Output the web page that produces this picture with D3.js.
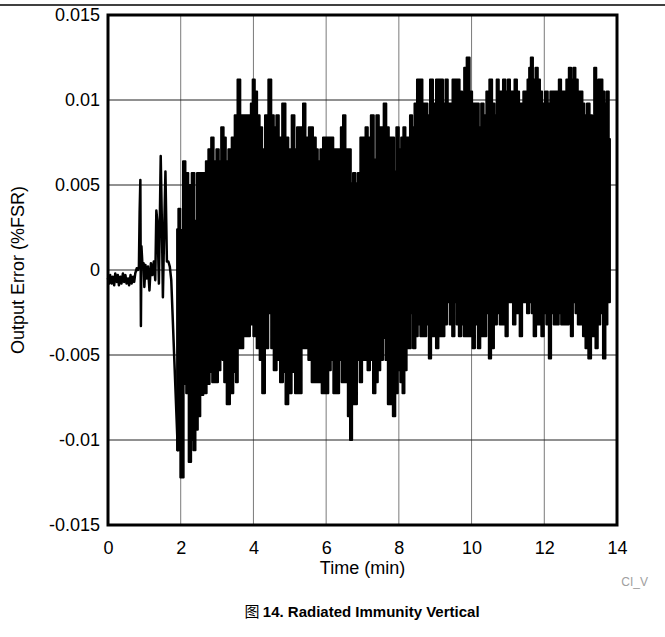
<!DOCTYPE html>
<html>
<head>
<meta charset="utf-8">
<script src="https://cdn.jsdelivr.net/npm/d3@7"></script>
<style>
html,body{margin:0;padding:0;background:#fff;}
svg{display:block;}
text{font-family:"Liberation Sans",Arial,sans-serif;}
</style>
</head>
<body>
<svg id="chart" width="665" height="637"></svg>
<script>
// ---- DATA (values in units of 0.001 %FSR) ----
const xTicks = [0, 2, 4, 6, 8, 10, 12, 14];
const xTickLabels = ["0", "2", "4", "6", "8", "10", "12", "14"];
const yTicks = [15, 10, 5, 0, -5, -10, -15];
const yTickLabels = ["0.015", "0.01", "0.005", "0", "-0.005", "-0.01", "-0.015"];

// quiet start, spikes and the step at ~1.9 min
const earlyTime = [0,0.03,0.06,0.1,0.13,0.17,0.2,0.24,0.27,0.3,0.34,0.37,0.41,0.44,0.48,0.51,0.55,0.58,0.62,0.65,0.69,0.72,0.75,0.79,0.82,0.85,0.87,0.89,0.905,0.92,0.95,0.98,1.0,1.03,1.07,1.1,1.14,1.18,1.22,1.26,1.3,1.33,1.36,1.4,1.45,1.48,1.51,1.54,1.58,1.62,1.66,1.7,1.74,1.92];
const earlyValue = [-0.5,-0.8,-0.3,-0.8,-0.4,-0.9,-0.2,-0.7,-0.3,-0.9,-0.4,-0.8,-0.2,-0.7,-0.3,-0.8,-0.5,-0.9,-0.3,-0.8,-0.4,-0.7,-0.2,0.1,0.0,0.2,3.4,5.3,-3.3,1.4,0.2,0.4,-1.0,0.3,-0.5,0.2,-1.2,0.4,-0.3,0.5,-0.6,3.5,2.8,-0.8,6.7,3.0,-1.6,1.8,5.8,0.5,0.5,0.2,-0.6,-10.6];

// upper envelope of the oscillating part
const hiTime = [1.90,1.916,1.953,2.026,2.099,2.163,2.255,2.347,2.411,2.484,2.576,2.668,2.714,2.805,2.869,2.943,3.016,3.080,3.144,3.218,3.264,3.355,3.447,3.520,3.603,3.676,3.768,3.905,3.951,4.006,4.070,4.134,4.208,4.272,4.364,4.455,4.529,4.593,4.666,4.730,4.850,4.914,5.006,5.097,5.161,5.235,5.326,5.400,5.464,5.583,5.693,5.739,5.803,5.876,5.950,6.060,6.151,6.243,6.381,6.427,6.500,6.564,6.656,6.702,6.775,6.839,6.903,6.977,7.050,7.114,7.178,7.279,7.343,7.417,7.481,7.545,7.618,7.692,7.756,7.847,7.893,7.967,8.031,8.095,8.150,8.214,8.278,8.333,8.397,8.462,8.535,8.627,8.672,8.764,8.810,8.902,8.975,9.067,9.131,9.177,9.250,9.314,9.378,9.452,9.498,9.589,9.635,9.708,9.773,9.818,9.910,9.983,10.048,10.094,10.167,10.231,10.295,10.369,10.442,10.534,10.598,10.662,10.717,10.781,10.827,10.900,10.964,11.029,11.084,11.148,11.212,11.285,11.331,11.395,11.450,11.515,11.560,11.606,11.652,11.725,11.790,11.854,11.909,11.973,12.064,12.129,12.202,12.294,12.367,12.431,12.495,12.569,12.642,12.706,12.770,12.825,12.890,12.954,13.027,13.073,13.137,13.210,13.284,13.348,13.394,13.467,13.504,13.577,13.623,13.687,13.742,13.806];
const hiValue = [2.4,2.35,3.6,2.35,6.4,5.7,5.0,5.7,2.9,5.7,5.7,5.7,6.4,7.1,7.8,6.4,7.1,6.4,8.4,7.8,6.4,7.1,7.8,9.1,11.2,9.1,9.1,9.1,9.8,11.2,10.5,9.1,8.4,7.1,9.1,11.2,9.1,8.4,9.1,7.8,9.8,7.8,7.1,9.1,7.1,8.4,8.4,9.8,7.8,8.4,7.8,7.1,6.4,7.1,7.8,7.8,7.8,7.1,7.1,8.4,9.1,7.1,7.1,5.1,5.7,5.1,5.7,7.8,7.8,8.4,7.8,9.1,6.5,9.1,8.4,8.4,9.8,8.4,7.8,7.8,5.8,8.4,7.1,7.8,8.4,7.8,7.8,9.1,8.4,9.8,11.2,11.2,9.8,9.8,9.1,11.2,9.8,11.2,11.2,11.2,9.8,11.2,9.8,9.8,11.2,11.2,11.2,10.5,9.8,11.9,12.5,10.5,9.8,9.8,9.8,8.4,9.8,9.1,10.5,11.2,9.8,9.1,11.2,10.5,10.5,11.2,10.5,11.2,10.5,10.5,11.2,10.5,9.8,9.8,10.5,10.5,11.2,11.9,12.5,11.2,11.9,11.2,10.5,9.8,10.5,9.8,10.5,10.5,10.5,11.2,10.5,10.5,11.2,11.9,11.2,11.9,11.2,10.5,10.5,9.8,9.1,9.8,9.1,8.4,11.9,9.1,11.2,11.2,10.5,9.8,10.5,7.7];

// lower envelope of the oscillating part
const loTime = [1.90,1.934,2.044,2.118,2.182,2.255,2.319,2.374,2.439,2.503,2.576,2.668,2.759,2.833,2.897,2.989,3.062,3.126,3.172,3.218,3.310,3.401,3.493,3.539,3.603,3.676,3.768,3.860,3.951,4.043,4.134,4.208,4.272,4.364,4.455,4.520,4.593,4.685,4.776,4.850,4.914,5.006,5.097,5.189,5.281,5.372,5.464,5.555,5.647,5.739,5.831,5.922,6.014,6.106,6.151,6.243,6.335,6.381,6.472,6.564,6.628,6.683,6.747,6.811,6.885,6.958,7.022,7.114,7.160,7.252,7.325,7.389,7.453,7.527,7.600,7.664,7.728,7.802,7.866,7.939,8.003,8.077,8.122,8.187,8.242,8.306,8.352,8.425,8.489,8.553,8.627,8.718,8.792,8.856,8.920,8.993,9.048,9.131,9.222,9.287,9.360,9.433,9.498,9.562,9.617,9.681,9.745,9.818,9.910,10.002,10.048,10.139,10.204,10.277,10.369,10.442,10.506,10.570,10.662,10.735,10.809,10.900,10.964,11.029,11.102,11.175,11.240,11.285,11.359,11.423,11.487,11.560,11.606,11.634,11.670,11.743,11.808,11.881,11.955,12.019,12.092,12.156,12.220,12.294,12.367,12.431,12.495,12.569,12.642,12.706,12.752,12.825,12.890,12.954,13.027,13.100,13.164,13.256,13.320,13.375,13.439,13.504,13.577,13.650,13.715,13.760,13.806];
const loValue = [-10.6,-10.6,-12.2,-6.7,-7.25,-11.3,-10.0,-10.6,-9.4,-8.6,-7.35,-7.25,-6.7,-6.0,-6.6,-6.6,-5.9,-4.0,-5.3,-6.6,-7.9,-7.25,-6.0,-6.6,-4.6,-4.6,-3.9,-3.9,-3.2,-3.9,-4.6,-5.3,-7.25,-4.6,-2.55,-4.6,-5.9,-5.3,-6.6,-6.0,-7.9,-7.25,-6.0,-7.25,-7.25,-4.6,-4.6,-5.3,-6.6,-6.6,-6.6,-7.25,-7.25,-5.9,-5.3,-7.25,-7.25,-5.3,-6.6,-6.6,-8.6,-10.0,-7.9,-7.9,-5.3,-6.6,-5.3,-5.3,-5.9,-5.3,-7.25,-6.6,-5.9,-5.3,-4.0,-5.3,-7.9,-7.9,-8.6,-7.25,-5.9,-6.6,-7.25,-5.9,-4.6,-4.6,-2.55,-4.6,-3.9,-3.2,-3.9,-3.9,-3.2,-5.2,-3.9,-3.9,-4.6,-3.9,-3.9,-3.2,-1.9,-3.2,-3.9,-1.9,-3.2,-3.9,-3.2,-3.9,-3.9,-3.9,-4.6,-3.2,-4.6,-3.9,-3.9,-2.55,-5.2,-4.6,-3.2,-2.55,-3.2,-3.2,-3.9,-1.9,-1.9,-3.2,-2.55,-2.55,-3.9,-1.9,-1.9,-2.55,-1.9,-0.5,-2.55,-3.9,-3.2,-3.2,-3.9,-2.55,-3.2,-5.2,-2.55,-3.2,-3.2,-2.55,-3.2,-3.2,-3.2,-1.9,-3.9,-1.9,-2.55,-3.2,-3.2,-3.9,-4.6,-5.2,-3.9,-3.9,-4.6,-3.2,-2.55,-5.2,-3.2,-1.9,-1.9];

// ---- LAYOUT ----
const svg = d3.select("#chart");
const L = 108, R = 617, T = 15, B = 525;
const x = d3.scaleLinear().domain([0, 14]).range([L, R]);
const y = d3.scaleLinear().domain([-15, 15]).range([B, T]);
const FONT = "'Liberation Sans', Arial, sans-serif";

// top rule
svg.append("line").attr("x1", 0).attr("x2", 665).attr("y1", 5).attr("y2", 5)
  .attr("stroke", "#000").attr("stroke-width", 1.5);

// grid
const g = svg.append("g");
g.selectAll(".vg").data(xTicks.slice(1, -1)).enter().append("line")
  .attr("x1", d => x(d)).attr("x2", d => x(d)).attr("y1", T).attr("y2", B)
  .attr("stroke", "#7a7a7a").attr("stroke-width", 1);
g.selectAll(".hg").data(yTicks.slice(1, -1)).enter().append("line")
  .attr("x1", L).attr("x2", R).attr("y1", d => y(d)).attr("y2", d => y(d))
  .attr("stroke", "#222").attr("stroke-width", 1);

// data
const plot = svg.append("g");
const upper = hiTime.map((t, i) => ({t, v: hiValue[i]}));
const lower = loTime.map((t, i) => ({t, v: loValue[i]}));
const early = earlyTime.map((t, i) => ({t, v: earlyValue[i]}));

const area = d3.area().x(d => x(d.t)).y0(y(0)).y1(d => y(d.v)).curve(d3.curveStep);
[upper, lower].forEach(data => {
  plot.append("path").attr("d", area(data))
    .attr("fill", "#000").attr("stroke", "#000").attr("stroke-width", 2)
    .attr("stroke-linejoin", "round");
});
const line = d3.line().x(d => x(d.t)).y(d => y(d.v));
plot.append("path").attr("d", line(early))
  .attr("fill", "none").attr("stroke", "#000").attr("stroke-width", 2.5)
  .attr("stroke-linejoin", "round").attr("stroke-linecap", "round");

// frame
svg.append("rect").attr("x", L).attr("y", T).attr("width", R - L).attr("height", B - T)
  .attr("fill", "none").attr("stroke", "#000").attr("stroke-width", 3);

// axes via d3
const xAxis = d3.axisBottom(x).tickValues(xTicks).tickSize(0).tickPadding(16)
  .tickFormat((d, i) => xTickLabels[i]);
const xg = svg.append("g").attr("transform", `translate(0,${B})`).call(xAxis);
xg.select(".domain").remove();
xg.selectAll("text").attr("font-size", 18).attr("fill", "#000").attr("font-family", FONT);

const yAxis = d3.axisLeft(y).tickValues(yTicks).tickSize(0).tickPadding(8)
  .tickFormat((d, i) => yTickLabels[i]);
const yg = svg.append("g").attr("transform", `translate(${L},0)`).call(yAxis);
yg.select(".domain").remove();
yg.selectAll("text").attr("font-size", 18).attr("fill", "#000").attr("font-family", FONT);

// titles
svg.append("text").attr("x", (L + R) / 2).attr("y", 574).attr("text-anchor", "middle")
  .attr("font-size", 18).text("Time (min)");
svg.append("text").attr("transform", `translate(24,${(T + B) / 2}) rotate(-90)`)
  .attr("text-anchor", "middle").attr("font-size", 18).text("Output Error (%FSR)");
svg.append("text").attr("x", 648).attr("y", 586).attr("text-anchor", "end")
  .attr("font-size", 12).attr("fill", "#a0a0a0").text("CI_V");

const cap = svg.append("text").attr("x", 362).attr("y", 617).attr("text-anchor", "middle")
  .attr("font-size", 15);
cap.append("tspan").attr("font-family", "'Noto Sans CJK SC', sans-serif").text("图 ");
cap.append("tspan").attr("font-weight", "bold").text("14. Radiated Immunity Vertical");
</script>
</body>
</html>
